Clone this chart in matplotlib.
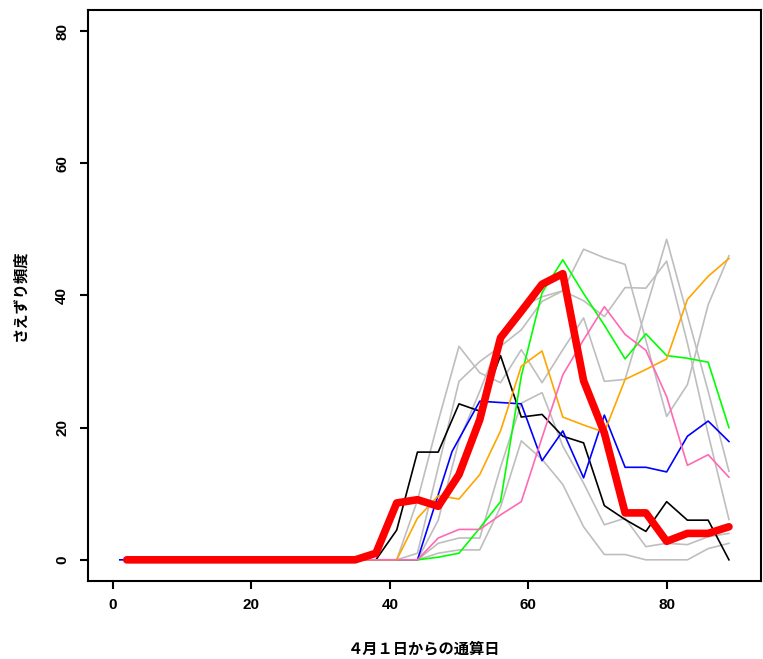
import matplotlib
matplotlib.use('Agg')
import matplotlib.pyplot as plt

plt.rcParams['font.family'] = ['Liberation Sans', 'Noto Sans CJK JP']

# days since April 1 (shared grid, every 3 days)
DAYS = [2, 5, 8, 11, 14, 17, 20, 23, 26, 29, 32, 35,
        38, 41, 44, 47, 50, 53, 56, 59, 62, 65, 68, 71, 74, 77, 80, 83, 86, 89]

# blue series was sampled on slightly different days
BLUE_DAYS = [1, 5, 8, 11, 14, 17, 20, 23, 26, 29, 32, 35,
             38, 41, 44, 49, 53, 56, 59, 62, 65, 68, 71, 74, 77, 80, 83, 86, 89]

# other years (grey)
GREY_SERIES = [
    [0, 0, 0, 0, 0, 0, 0, 0, 0, 0, 0, 0,
     0, 0, 9, 21, 32.3, 28.3, 26.8, 31.8, 26.8, 31.8, 36.6, 27.0, 27.3, 37.9, 48.5, 37.0, 25.5, 13.4],
    [0, 0, 0, 0, 0, 0, 0, 0, 0, 0, 0, 0,
     0, 0, 0, 6, 18, 25.5, 33.5, 38.3, 39.8, 40.7, 39.2, 36.8, 41.2, 41.1, 45.2, 32.8, 19.0, 6.1],
    [0, 0, 0, 0, 0, 0, 0, 0, 0, 0, 0, 0,
     0, 0, 1, 14, 27.0, 30.0, 32.3, 34.8, 39.1, 40.7, 47.0, 45.7, 44.7, 33.2, 21.7, 26.5, 38.6, 46.0],
    [0, 0, 0, 0, 0, 0, 0, 0, 0, 0, 0, 0,
     0, 0, 0, 2.5, 3.3, 3.3, 14, 23.7, 25.3, 17.2, 11.6, 5.3, 6.3, 2.0, 2.5, 2.3, 3.5, 4.0],
    [0, 0, 0, 0, 0, 0, 0, 0, 0, 0, 0, 0,
     0, 0, 0, 1, 1.5, 1.5, 8, 18, 15.2, 11.4, 5.0, 0.8, 0.8, 0, 0, 0, 1.7, 2.5],
]

black = [0, 0, 0, 0, 0, 0, 0, 0, 0, 0, 0, 0,
         0, 4.5, 16.3, 16.3, 23.6, 22.5, 30.9, 21.6, 22.0, 18.7, 17.7, 8.2, 6.1, 4.3, 8.8, 6.0, 6.0, 0]
blue = [0, 0, 0, 0, 0, 0, 0, 0, 0, 0, 0, 0,
        0, 0, 0, 16.4, 24.0, 23.8, 23.6, 15.0, 19.5, 12.4, 21.9, 14.0, 14.0, 13.3, 18.7, 21.0, 17.9]
green = [0, 0, 0, 0, 0, 0, 0, 0, 0, 0, 0, 0,
         0, 0, 0, 0.4, 1.0, 4.8, 8.8, 27.8, 40.4, 45.4, 40.3, 35.5, 30.4, 34.2, 30.9, 30.5, 29.9, 20.0]
orange = [0, 0, 0, 0, 0, 0, 0, 0, 0, 0, 0, 0,
          0, 0, 6.3, 9.7, 9.2, 12.9, 19.5, 29.3, 31.6, 21.6, 20.4, 19.3, 27.3, 28.8, 30.4, 39.4, 42.9, 45.6]
pink = [0, 0, 0, 0, 0, 0, 0, 0, 0, 0, 0, 0,
        0, 0, 0, 3.3, 4.6, 4.6, 6.8, 8.8, 18.5, 28.0, 33.3, 38.3, 34.1, 31.7, 24.7, 14.3, 15.9, 12.5]
red = [0, 0, 0, 0, 0, 0, 0, 0, 0, 0, 0, 0,
       1.0, 8.6, 9.1, 8.1, 12.9, 21.2, 33.6, 37.6, 41.7, 43.3, 27.1, 19.2, 7.1, 7.1, 2.8, 4.0, 4.0, 5.0]

X_TICKS = [0, 20, 40, 60, 80]
Y_TICKS = [0, 20, 40, 60, 80]


def main():
    fig = plt.figure(figsize=(7.63, 6.59), dpi=100)
    ax = fig.add_axes([0.1153, 0.1184, 0.8818, 0.8665])

    for ys in GREY_SERIES:
        ax.plot(DAYS, ys, color='#bebebe', lw=1.2)
    ax.plot(DAYS, black, color='black', lw=1.2)
    ax.plot(BLUE_DAYS, blue, color='blue', lw=1.2)
    ax.plot(DAYS, green, color='#00ff00', lw=1.2)
    ax.plot(DAYS, orange, color='orange', lw=1.2)
    ax.plot(DAYS, pink, color='hotpink', lw=1.2)
    ax.plot(DAYS, red, color='red', lw=5.5,
            solid_capstyle='round', solid_joinstyle='round')

    # R style: 4% padding around (0, 90) x (0, 80)
    ax.set_xlim(-3.6, 93.6)
    ax.set_ylim(-3.2, 83.2)
    ax.set_xticks(X_TICKS)
    ax.set_yticks(Y_TICKS)
    ax.tick_params(direction='out', length=5.5, width=1.5, pad=12,
                   labelsize=11)
    ax.tick_params(axis='y', labelrotation=90, pad=8)
    for lab in ax.get_xticklabels() + ax.get_yticklabels():
        lab.set_fontweight('bold')
        lab.set_va('center')
    for s in ax.spines.values():
        s.set_linewidth(1.5)

    ax.set_xlabel('４月１日からの通算日', family=['Noto Sans CJK JP'],
                  fontweight='bold', fontsize=11, labelpad=20)
    ax.set_ylabel('さえずり頻度', family=['Noto Sans CJK JP'],
                  fontweight='bold', fontsize=11, labelpad=20)

    fig.savefig('out.png', dpi=100)


if __name__ == "__main__":
    main()
